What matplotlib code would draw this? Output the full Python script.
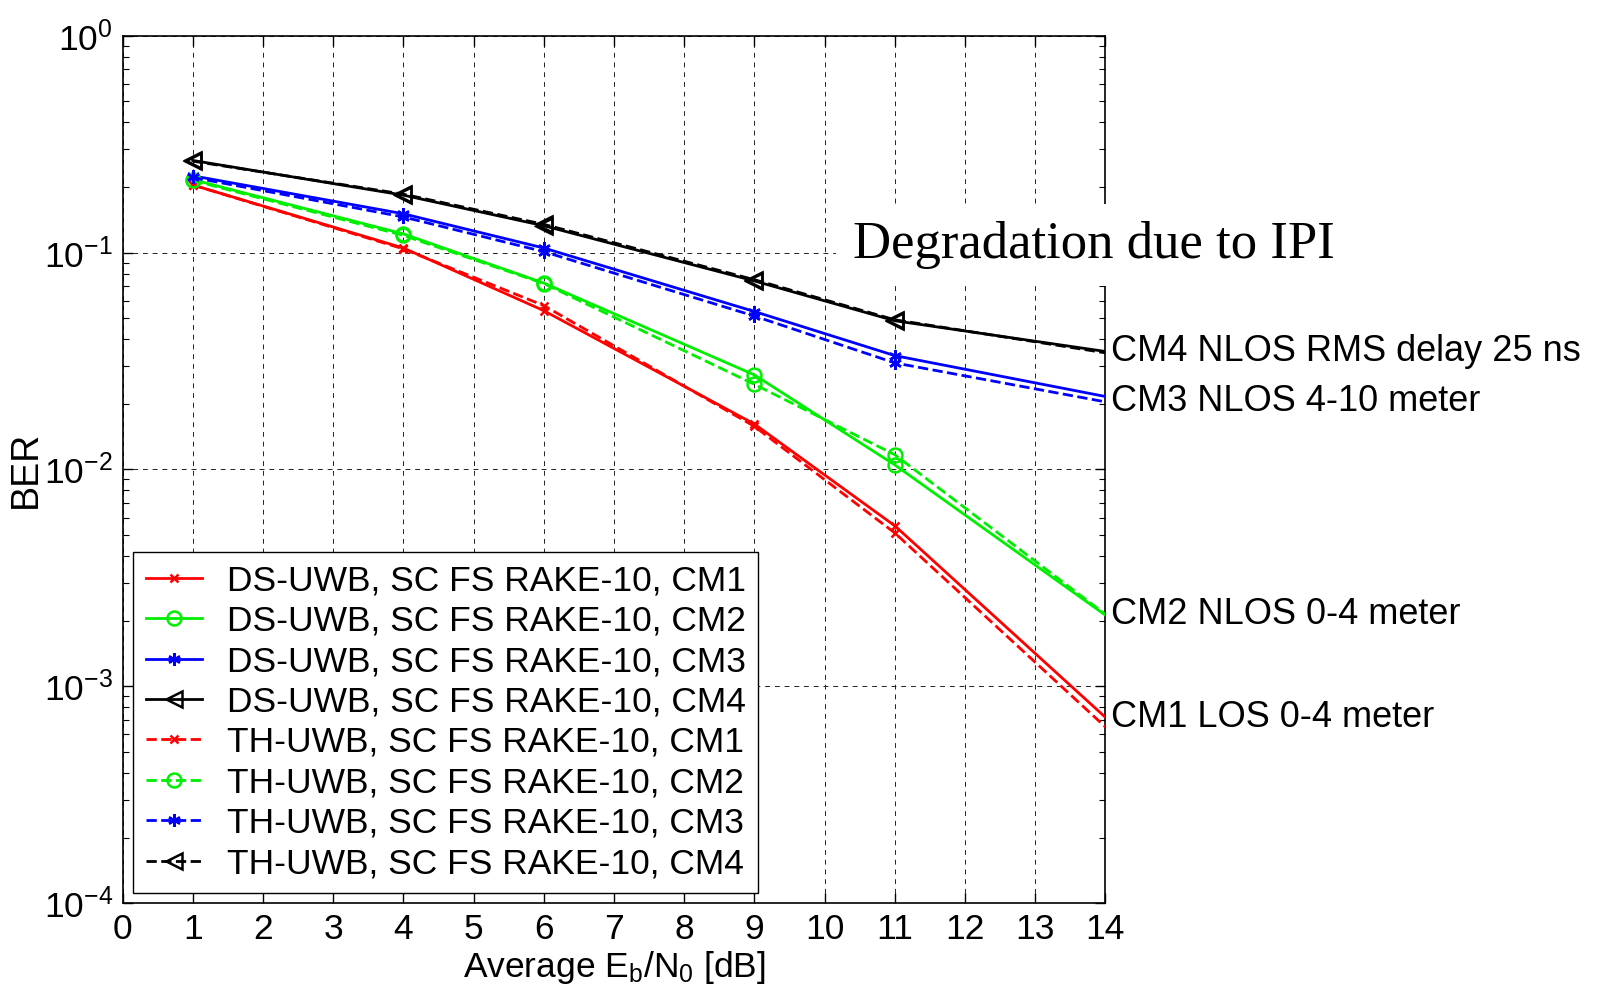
import numpy as np
import matplotlib
matplotlib.use("Agg")
import matplotlib.pyplot as plt
from matplotlib.ticker import LogLocator, NullFormatter

# ── Data ───────────────────────────────────────────────────────────────────
ebn0 = [1, 4, 6, 9, 11, 14]

ds_cm1 = [0.205, 0.105, 0.054, 0.0162, 0.0055, 0.00072]
ds_cm2 = [0.217, 0.122, 0.0724, 0.0273, 0.0105, 0.00213]
ds_cm3 = [0.226, 0.151, 0.105, 0.0535, 0.0335, 0.0217]
ds_cm4 = [0.266, 0.184, 0.133, 0.074, 0.0485, 0.035]

th_cm1 = [0.205, 0.104, 0.057, 0.0158, 0.0051, 0.00065]
th_cm2 = [0.215, 0.120, 0.072, 0.0247, 0.0117, 0.00215]
th_cm3 = [0.222, 0.146, 0.101, 0.051, 0.031, 0.0205]
th_cm4 = [0.264, 0.186, 0.135, 0.075, 0.049, 0.0345]

channel_labels = ["CM1 LOS 0-4 meter", "CM2 NLOS 0-4 meter",
                  "CM3 NLOS 4-10 meter", "CM4 NLOS RMS delay 25 ns"]

plt.rcParams.update({
    "font.family": "Liberation Sans",
    "font.size": 25.5,
    "mathtext.default": "regular",
    "figure.dpi": 100,
})

STYLE = {
    "CM1": ("#ff0000", "x", 6),
    "CM2": ("#00ee00", "o", 10),
    "CM3": ("#0000ff", (6, 2, 0), 9),
    "CM4": ("#000000", "<", 12),
}

fig = plt.figure(figsize=(16.02, 9.92))
ax = fig.add_axes([0.0765, 0.0895, 0.6135, 0.8745])

series = [
    ("DS-UWB", "CM1", ds_cm1, "-"), ("DS-UWB", "CM2", ds_cm2, "-"),
    ("DS-UWB", "CM3", ds_cm3, "-"), ("DS-UWB", "CM4", ds_cm4, "-"),
    ("TH-UWB", "CM1", th_cm1, "--"), ("TH-UWB", "CM2", th_cm2, "--"),
    ("TH-UWB", "CM3", th_cm3, "--"), ("TH-UWB", "CM4", th_cm4, "--"),
]
# no marker on the last (14 dB) point, as in the original
for scheme, cm, vals, ls in series:
    color, marker, ms = STYLE[cm]
    ax.semilogy(ebn0, vals, ls, color=color, marker=marker, markersize=ms,
                markevery=list(range(len(ebn0) - 1)),
                markerfacecolor="none", markeredgecolor=color, markeredgewidth=1.8,
                linewidth=2.0, label=f"{scheme}, SC FS RAKE-10, {cm}", zorder=3)

ax.set_xlim(0, 14)
ax.set_ylim(1e-4, 1)
ax.set_xticks(range(0, 15))
ax.yaxis.set_major_locator(LogLocator(base=10, numticks=10))
ax.yaxis.set_minor_locator(LogLocator(base=10, subs=np.arange(2, 10), numticks=20))
ax.yaxis.set_minor_formatter(NullFormatter())
ax.tick_params(which="both", direction="in", top=True, right=True)
ax.tick_params(which="major", length=7, width=1, pad=7)
ax.tick_params(which="minor", length=4, width=0.8)
ax.grid(True, which="major", color="#222222", linestyle=(0, (5, 5)), linewidth=0.7)
for s in ax.spines.values():
    s.set_linewidth(1.2)

ax.set_xlabel("Average E$_b$/N$_0$ [dB]", labelpad=2)
ax.set_ylabel("BER", labelpad=0, fontsize=27)

# channel labels at the right end of each curve
ends = [ds_cm1[-1], th_cm2[-1], th_cm3[-1], ds_cm4[-1]]
for lab, yv in zip(channel_labels, ends):
    ax.annotate(lab, xy=(ebn0[-1], yv), xytext=(4, 0), textcoords="offset points",
                ha="left", va="center", annotation_clip=False, fontsize=26)

ax.text(10.4, 0.108, "Degradation due to IPI", family="Liberation Serif",
        fontsize=38, ha="left", va="center", clip_on=False, zorder=5,
        bbox=dict(facecolor="white", edgecolor="none", pad=12))

leg = ax.legend(loc="lower left", fancybox=False, framealpha=1, edgecolor="black",
                handlelength=1.6, handletextpad=0.7, labelspacing=0.21,
                borderpad=0.35, borderaxespad=0.3, fontsize=25.5)
leg.get_frame().set_linewidth(1.0)

fig.savefig("out.png", dpi=100)
